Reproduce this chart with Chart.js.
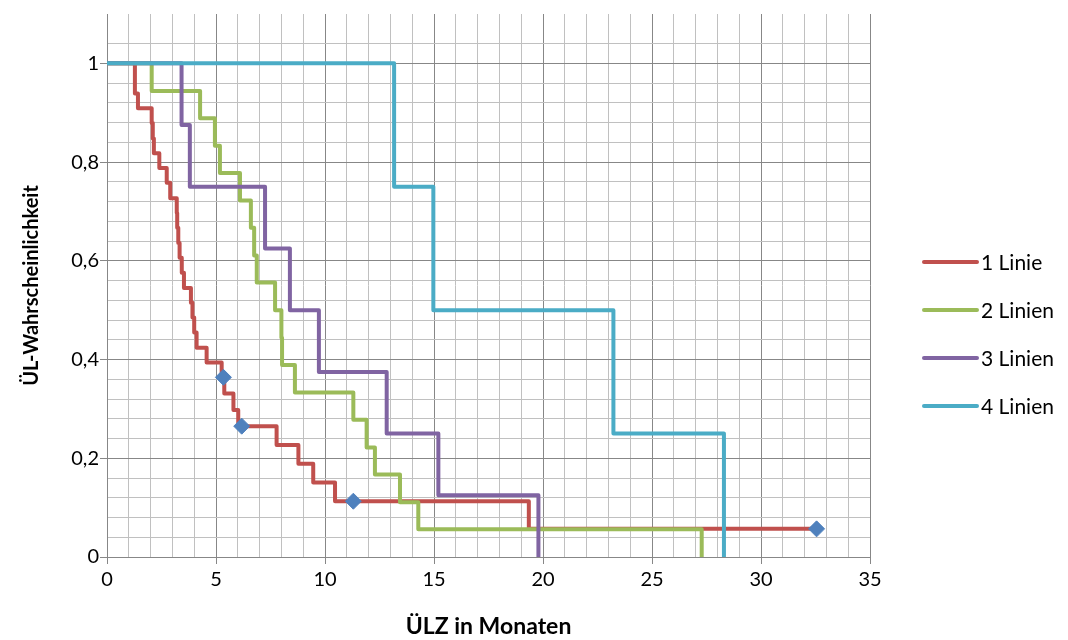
<!DOCTYPE html>
<html>
<head>
<meta charset="utf-8">
<script src="https://cdn.jsdelivr.net/npm/chart.js@4/dist/chart.umd.min.js"></script>
<style>
  html, body { margin: 0; padding: 0; background: #fff; }
  #wrap { width: 1068px; height: 640px; }
</style>
</head>
<body>
<div id="wrap"><canvas id="kmChart" width="1068" height="640"></canvas></div>
<script>
// Kaplan-Meier curves: time in months, survival probability
const seriesNames = ['1 Linie', '2 Linien', '3 Linien', '4 Linien'];

const redTimes = [0, 1.28, 1.28, 1.42, 2.05, 2.1, 2.15, 2.4, 2.74, 2.9, 3.2, 3.22, 3.27, 3.33, 3.43, 3.53,
                  3.85, 3.92, 4.0, 4.11, 4.57, 5.26, 5.38, 5.8, 6.02, 7.78, 8.78, 9.46, 10.46, 19.35, 32.55];
const redSurv  = [1, 0.970, 0.939, 0.909, 0.879, 0.848, 0.818, 0.788, 0.758, 0.727, 0.697, 0.667, 0.636, 0.606, 0.576, 0.545,
                  0.515, 0.485, 0.455, 0.424, 0.394, 0.364, 0.331, 0.298, 0.265, 0.227, 0.189, 0.151, 0.113, 0.057, 0.057];

const greenTimes = [0, 2.05, 4.27, 4.95, 5.18, 6.1, 6.6, 6.75, 6.87, 7.71, 8.0, 8.03, 8.62, 11.3, 11.91, 12.29, 13.44, 14.28, 27.28];
const greenSurv  = [1, 0.944, 0.889, 0.833, 0.778, 0.722, 0.667, 0.611, 0.556, 0.5, 0.444, 0.389, 0.333, 0.278, 0.222, 0.167, 0.111, 0.056, 0];

const purpleTimes = [0, 3.42, 3.8, 7.25, 8.39, 9.72, 12.83, 15.2, 19.79];
const purpleSurv  = [1, 0.875, 0.75, 0.625, 0.5, 0.375, 0.25, 0.125, 0];

const cyanTimes = [0, 13.17, 14.97, 23.23, 28.3];
const cyanSurv  = [1, 0.75, 0.5, 0.25, 0];

// censored observations (diamonds)
const censTimes = [5.34, 6.18, 11.3, 32.55];
const censSurv  = [0.364, 0.265, 0.113, 0.057];

const xTickLabels = ['0', '5', '10', '15', '20', '25', '30', '35'];
const yTickLabels = ['0', '0,2', '0,4', '0,6', '0,8', '1'];

const colors = ['#C0504D', '#9BBB59', '#8064A2', '#4BACC6'];
const FONT = 'Lato';

const toPoints = (xs, ys) => xs.map((x, i) => ({ x: x, y: ys[i] }));
const isMult = (v, step) => Math.abs(v / step - Math.round(v / step)) < 1e-6;

const curves = [
    [redTimes, redSurv], [greenTimes, greenSurv], [purpleTimes, purpleSurv], [cyanTimes, cyanSurv]
];

const datasets = curves.map((c, i) => ({
    label: seriesNames[i],
    data: toPoints(c[0], c[1]),
    borderColor: colors[i],
    backgroundColor: colors[i],
    borderWidth: 4,
    borderJoinStyle: 'round',
    borderCapStyle: 'round',
    stepped: 'before',
    pointRadius: 0,
    fill: false,
    order: 4 - i
}));

datasets.push({
    label: 'zensiert',
    data: toPoints(censTimes, censSurv),
    showLine: false,
    pointStyle: 'rectRot',
    pointRadius: 8,
    pointBackgroundColor: '#4F81BD',
    pointBorderColor: '#4F81BD',
    pointBorderWidth: 1,
    order: 0
});

// simple right-hand legend, line sample + label
const sideLegend = {
    id: 'sideLegend',
    afterDraw(chart) {
        const ctx = chart.ctx;
        ctx.save();
        ctx.font = '21px ' + FONT;
        ctx.textBaseline = 'middle';
        ctx.fillStyle = '#000';
        seriesNames.forEach((name, i) => {
            const y = 262 + i * 48;
            ctx.strokeStyle = colors[i];
            ctx.lineWidth = 4;
            ctx.lineCap = 'round';
            ctx.beginPath();
            ctx.moveTo(924, y);
            ctx.lineTo(977, y);
            ctx.stroke();
            ctx.fillText(name, 981, y + 1);
        });
        ctx.restore();
    }
};

const majorGrid = '#878787';
const minorGrid = '#C0C0C0';

new Chart(document.getElementById('kmChart').getContext('2d'), {
    type: 'line',
    data: { datasets: datasets },
    options: {
        responsive: false,
        animation: false,
        layout: { padding: { top: 14, right: 198, left: 0, bottom: 0 } },
        plugins: {
            legend: { display: false },
            tooltip: { enabled: false }
        },
        scales: {
            x: {
                type: 'linear',
                min: 0,
                max: 35,
                afterFit: s => { s.height = 83; },
                grid: {
                    color: c => isMult(c.tick.value, 5) ? majorGrid : minorGrid,
                    tickColor: c => isMult(c.tick.value, 5) ? majorGrid : 'rgba(0,0,0,0)',
                    tickLength: 7,
                    lineWidth: 1
                },
                border: { color: majorGrid },
                ticks: {
                    stepSize: 1,
                    autoSkip: false,
                    maxRotation: 0,
                    padding: 4,
                    color: '#000',
                    font: { family: FONT, size: 20 },
                    callback: v => isMult(v, 5) ? xTickLabels[Math.round(v / 5)] : ''
                },
                title: {
                    display: true,
                    text: 'ÜLZ in Monaten',
                    color: '#000',
                    font: { family: FONT, size: 23, weight: 'bold' },
                    padding: { top: 0, bottom: 0 }
                }
            },
            y: {
                min: 0,
                max: 1.1,
                afterFit: s => { s.width = 107; },
                grid: {
                    color: c => {
                        const v = c.tick.value;
                        if (v > 1.09) return 'rgba(0,0,0,0)';
                        return isMult(v, 0.2) ? majorGrid : minorGrid;
                    },
                    tickColor: c => (isMult(c.tick.value, 0.2) && c.tick.value < 1.09) ? majorGrid : 'rgba(0,0,0,0)',
                    tickLength: 7,
                    lineWidth: 1
                },
                border: { color: majorGrid },
                ticks: {
                    stepSize: 0.04,
                    autoSkip: false,
                    padding: 1,
                    color: '#000',
                    font: { family: FONT, size: 20 },
                    callback: v => (isMult(v, 0.2) && v < 1.09) ? yTickLabels[Math.round(v / 0.2)] : ''
                },
                title: {
                    display: true,
                    text: 'ÜL-Wahrscheinlichkeit',
                    color: '#000',
                    font: { family: FONT, size: 20, weight: 'bold' },
                    padding: { top: 20, bottom: 0 }
                }
            }
        }
    },
    plugins: [sideLegend]
});
</script>
</body>
</html>
